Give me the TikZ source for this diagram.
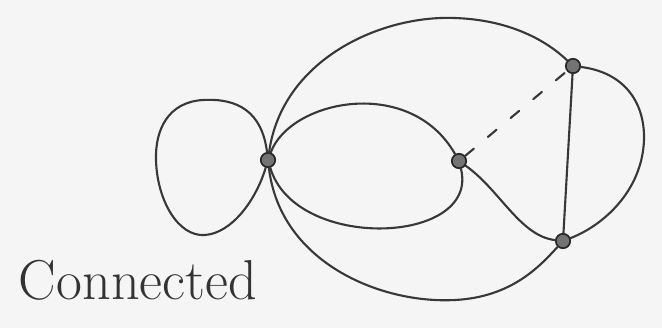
\documentclass[tikz,border=0pt]{standalone}
\usepackage{tikz}
\usetikzlibrary{positioning, backgrounds}

\begin{document}
\begin{tikzpicture}[
  x=0.025cm, y=-0.025cm,
  vert/.style={circle, draw=black!85, fill=black!55, line width=1.2pt,
               minimum size=0.36cm, inner sep=0pt},
  edge/.style={line width=1.5pt, black!78, line cap=round},
  ghost/.style={edge, dash pattern=on 8pt off 13pt},
  lbl/.style={font=\fontsize{40}{40}\selectfont, text=black!80}
]
\useasboundingbox[fill=black!4] (0,0) rectangle (662,328);

\node[vert] (hub) at (268,160) {};
\node[vert] (mid) at (459,161) {};
\node[vert] (top) at (573,66) {};
\node[vert] (bot) at (563,241) {};

\node[lbl] (cap) at (138,280) {Connected};

% loop at the hub
\draw[edge] (hub) .. controls (262,112) and (238,98) .. (203,100)
  .. controls (168,102) and (155,130) .. (156,160)
  .. controls (157,200) and (178,237) .. (205,235)
  .. controls (232,233) and (256,200) .. (hub);

% outer curves
\draw[edge] (hub) .. controls (282,60) and (380,15) .. (455,18)
  .. controls (512,20) and (548,42) .. (top);
\draw[edge] (top) .. controls (622,72) and (645,100) .. (644,140)
  .. controls (642,192) and (602,226) .. (bot);
\draw[edge] (hub) .. controls (280,262) and (380,304) .. (455,300)
  .. controls (512,297) and (540,266) .. (bot);

% inner pair
\draw[edge] (hub) .. controls (290,100) and (410,75) .. (mid);
\draw[edge] (hub) .. controls (295,252) and (480,245) .. (mid);

% triangle
\draw[edge] (mid) .. controls (500,190) and (520,236) .. (bot);
\draw[edge] (top) -- (bot);
\draw[ghost] (mid) -- (top);
\end{tikzpicture}
\end{document}
